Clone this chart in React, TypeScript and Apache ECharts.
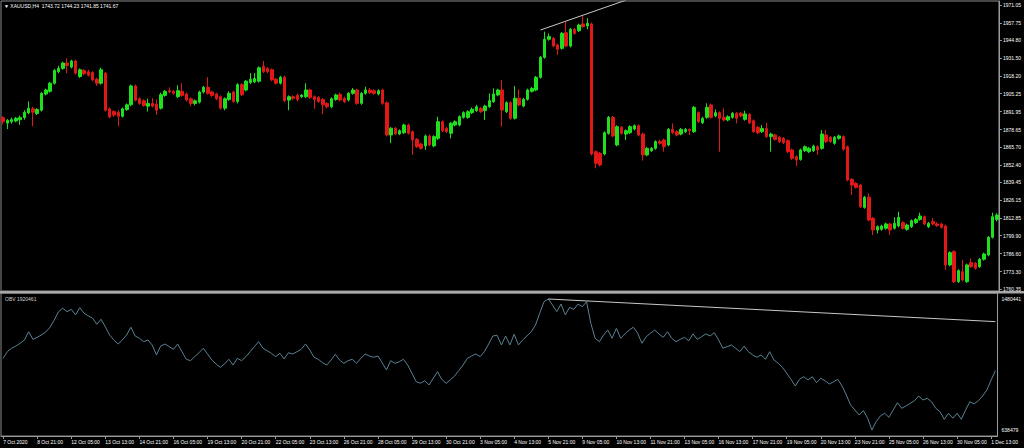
import React, { useEffect, useRef } from 'react';
import * as echarts from 'echarts';

const headerText = '\u25BC XAUUSD,H4  1743.72 1744.23 1741.85 1741.67';
const obvTitle = 'OBV 1920461';

const tickLabels = [
  '7 Oct 2020', '8 Oct 21:00', '12 Oct 05:00', '13 Oct 13:00', '14 Oct 21:00', '16 Oct 05:00',
  '19 Oct 13:00', '20 Oct 21:00', '22 Oct 05:00', '23 Oct 13:00', '26 Oct 21:00', '28 Oct 05:00',
  '29 Oct 13:00', '30 Oct 21:00', '3 Nov 05:00', '4 Nov 13:00', '5 Nov 21:00', '9 Nov 05:00',
  '10 Nov 13:00', '11 Nov 21:00', '13 Nov 05:00', '16 Nov 13:00', '17 Nov 21:00', '19 Nov 05:00',
  '20 Nov 13:00', '23 Nov 21:00', '25 Nov 05:00', '26 Nov 13:00', '30 Nov 05:00', '1 Dec 13:00',
];

const priceTicks = [
  1971.05, 1957.75, 1944.8, 1931.5, 1918.2, 1905.25, 1891.95, 1878.65, 1865.7,
  1852.4, 1839.45, 1826.15, 1812.85, 1799.9, 1786.6, 1773.3, 1760.35,
];
const obvTicks = [1480441, 638479];

const opens = [
  1887.5,1883.5,1884.5,1885.0,1886.0,1887.5,1891.0,1894.0,1890.5,1893.0,
  1905.0,1907.0,1913.0,1921.5,1924.0,1928.0,1925.0,1929.5,1918.0,1922.5,
  1921.5,1921.0,1916.0,1913.0,1920.5,1894.0,1892.0,1891.5,1888.5,1893.5,
  1897.0,1911.0,1901.5,1900.0,1896.0,1898.0,1897.5,1894.5,1904.0,1907.5,
  1907.0,1903.0,1907.0,1905.0,1901.5,1898.0,1899.0,1906.5,1910.0,1906.5,
  1905.0,1903.0,1894.5,1901.0,1906.5,1899.5,1912.0,1908.0,1913.5,1914.0,
  1914.5,1925.5,1924.0,1923.0,1916.0,1913.0,1917.5,1900.5,1903.0,1904.0,
  1903.0,1903.0,1908.0,1903.0,1902.5,1901.0,1898.0,1895.5,1901.0,1904.8,
  1901.8,1900.6,1905.5,1908.0,1898.1,1905.5,1908.0,1907.5,1905.0,1908.0,
  1898.5,1874.6,1879.6,1875.4,1876.3,1882.0,1877.1,1871.4,1867.9,1866.5,
  1873.9,1866.5,1872.1,1884.5,1879.6,1875.9,1882.0,1882.0,1887.7,1887.7,
  1891.2,1892.7,1894.4,1892.7,1895.6,1899.3,1904.3,1908.0,1891.9,1898.6,
  1887.0,1901.8,1896.1,1901.1,1907.0,1908.0,1917.4,1932.2,1945.6,1946.3,
  1941.4,1938.9,1950.5,1940.6,1953.0,1952.0,1957.0,1955.5,1957.0,1862.2,
  1861.0,1860.5,1875.8,1887.7,1867.2,1880.3,1875.3,1876.3,1879.0,1881.5,
  1875.3,1859.8,1863.0,1864.7,1869.7,1870.9,1867.2,1878.8,1877.1,1875.3,
  1877.1,1878.8,1877.1,1891.2,1883.7,1887.7,1896.9,1888.7,1891.2,1887.7,
  1885.7,1887.7,1890.7,1890.7,1886.2,1889.9,1885.2,1880.3,1877.1,1879.5,
  1873.4,1874.6,1872.9,1872.1,1870.4,1863.5,1858.5,1856.5,1863.0,1862.2,
  1863.0,1865.9,1864.7,1874.6,1872.9,1868.4,1872.1,1873.4,1865.9,1841.7,
  1838.7,1837.5,1820.9,1828.4,1812.8,1804.1,1804.6,1805.4,1808.6,1805.4,
  1807.1,1809.6,1804.6,1806.6,1809.6,1812.0,1814.0,1806.6,1810.3,1808.6,
  1808.6,1807.1,1778.2,1788.1,1765.8,1773.2,1765.8,1779.9,1779.4,1776.9,
  1782.4,1785.6,1798.7,1812.0,
];

const closes = [
  1884.5,1885.5,1886.0,1887.0,1887.5,1891.5,1894.5,1891.5,1893.5,1905.5,
  1908.0,1913.0,1922.5,1924.0,1928.0,1926.0,1929.5,1920.5,1923.0,1920.0,
  1919.0,1915.5,1913.0,1923.0,1893.0,1888.0,1889.5,1888.5,1894.0,1897.0,
  1911.0,1900.5,1898.0,1896.5,1898.0,1896.0,1893.0,1904.5,1907.0,1906.5,
  1905.5,1907.5,1904.0,1900.5,1898.0,1900.0,1906.5,1910.0,1905.5,1904.0,
  1901.5,1894.5,1901.5,1905.5,1899.5,1912.0,1904.5,1914.5,1916.0,1916.5,
  1924.5,1921.5,1921.5,1915.5,1913.0,1917.5,1900.0,1903.0,1901.8,1901.0,
  1904.2,1908.0,1902.5,1901.0,1899.5,1897.0,1895.5,1901.5,1904.3,1900.6,
  1899.3,1905.5,1908.0,1898.1,1905.5,1908.0,1906.0,1905.5,1907.5,1898.1,
  1874.6,1879.6,1875.4,1877.8,1882.0,1875.9,1870.9,1866.0,1864.7,1873.9,
  1867.2,1873.4,1884.5,1877.8,1877.1,1883.3,1884.5,1888.2,1891.2,1891.9,
  1893.7,1895.6,1891.9,1896.1,1900.1,1905.0,1908.0,1893.1,1898.6,1887.0,
  1901.8,1896.9,1901.1,1908.0,1909.2,1917.4,1932.2,1945.6,1947.6,1940.6,
  1938.2,1950.0,1940.6,1953.0,1950.0,1956.2,1955.0,1957.5,1860.5,1853.6,
  1852.3,1876.3,1887.7,1873.9,1880.8,1875.8,1877.8,1880.8,1881.5,1874.6,
  1859.8,1864.7,1864.7,1869.7,1868.4,1865.9,1878.8,1876.3,1874.6,1878.8,
  1878.8,1877.8,1895.1,1884.5,1887.0,1895.1,1887.7,1891.2,1887.0,1885.7,
  1888.2,1890.7,1887.0,1888.7,1890.2,1883.7,1877.1,1876.3,1879.5,1873.4,
  1875.3,1871.4,1869.6,1868.9,1862.2,1857.3,1856.0,1863.5,1865.9,1864.7,
  1866.4,1863.5,1875.3,1869.7,1869.7,1872.9,1873.9,1864.0,1841.2,1837.5,
  1835.8,1821.4,1828.4,1811.5,1804.1,1806.6,1807.1,1808.6,1804.1,1809.1,
  1813.5,1805.4,1807.8,1811.0,1812.0,1814.5,1808.6,1809.1,1808.6,1807.4,
  1806.1,1778.2,1787.3,1765.8,1774.0,1767.0,1778.2,1776.9,1775.7,1782.4,
  1786.3,1798.7,1814.0,1815.2,
];

const highs = [
  1888.5,1886.5,1887.5,1888.0,1889.0,1893.0,1899.5,1895.5,1894.5,1906.5,
  1909.0,1914.0,1923.5,1926.0,1929.0,1931.5,1930.5,1930.5,1924.0,1923.5,
  1923.0,1922.0,1917.0,1924.5,1921.5,1895.0,1893.0,1893.0,1895.0,1898.0,
  1912.0,1912.0,1902.5,1901.0,1901.5,1902.0,1901.0,1906.0,1908.0,1910.0,
  1908.0,1911.5,1913.0,1906.0,1902.5,1901.0,1907.5,1911.0,1917.5,1907.5,
  1906.0,1904.0,1902.5,1907.0,1907.5,1913.0,1913.0,1915.5,1920.5,1920.5,
  1925.5,1929.5,1925.0,1924.0,1917.0,1918.5,1918.5,1904.0,1904.0,1905.5,
  1905.0,1913.0,1909.0,1904.0,1903.5,1902.0,1899.0,1902.5,1905.3,1906.0,
  1903.0,1906.5,1909.5,1909.0,1906.5,1910.5,1909.5,1908.5,1908.5,1909.0,
  1899.5,1880.5,1880.5,1878.8,1883.0,1883.0,1878.0,1872.4,1868.9,1875.0,
  1875.0,1874.4,1888.2,1885.5,1880.6,1884.3,1885.5,1889.2,1892.2,1893.0,
  1895.0,1897.0,1895.4,1897.1,1905.5,1909.2,1909.0,1915.4,1899.6,1899.6,
  1911.0,1908.5,1902.1,1909.0,1910.2,1918.4,1933.2,1951.3,1950.0,1947.3,
  1942.4,1951.0,1958.7,1954.0,1954.0,1957.2,1963.6,1961.2,1958.0,1863.2,
  1862.0,1877.3,1888.7,1888.7,1881.8,1881.3,1878.8,1881.8,1882.5,1882.5,
  1876.3,1865.7,1865.7,1870.7,1871.0,1871.9,1879.8,1883.2,1878.1,1879.8,
  1879.8,1879.5,1896.1,1892.2,1888.0,1898.1,1897.9,1893.6,1892.2,1894.4,
  1889.2,1891.7,1891.7,1891.7,1892.6,1890.9,1886.2,1881.3,1882.0,1883.7,
  1876.3,1875.6,1873.9,1873.1,1871.4,1864.5,1859.5,1864.5,1866.9,1865.7,
  1867.4,1866.9,1878.3,1878.3,1873.9,1873.9,1874.9,1874.4,1866.9,1842.7,
  1839.7,1838.5,1829.4,1831.3,1813.8,1807.6,1808.1,1809.6,1809.6,1813.5,
  1817.7,1810.6,1808.8,1812.0,1813.0,1817.0,1815.0,1810.1,1813.0,1810.0,
  1809.6,1808.1,1788.3,1789.1,1775.0,1781.9,1779.2,1783.1,1780.4,1783.4,
  1787.3,1799.7,1817.0,1816.5,
];

const lows = [
  1882.5,1879.0,1883.0,1884.0,1882.0,1886.0,1890.0,1881.0,1889.5,1892.0,
  1904.0,1906.0,1912.0,1920.5,1923.0,1920.5,1924.0,1919.5,1917.0,1919.0,
  1918.0,1914.5,1911.0,1912.0,1892.0,1887.0,1888.0,1881.0,1887.5,1892.5,
  1896.0,1899.5,1897.0,1895.5,1892.0,1895.0,1889.5,1893.5,1903.0,1905.5,
  1904.5,1902.0,1903.0,1899.5,1896.0,1896.5,1898.0,1905.5,1904.5,1903.0,
  1900.5,1893.5,1893.0,1900.0,1898.5,1898.0,1903.5,1907.0,1912.5,1913.0,
  1913.5,1920.5,1920.5,1914.5,1912.0,1912.0,1899.0,1893.0,1900.5,1899.5,
  1902.0,1902.0,1901.5,1894.0,1898.5,1890.0,1894.5,1894.5,1900.0,1899.5,
  1898.3,1899.5,1904.5,1897.0,1897.0,1904.5,1905.0,1904.5,1904.0,1897.0,
  1873.5,1868.5,1874.5,1874.5,1875.3,1874.9,1859.8,1865.0,1863.7,1863.5,
  1866.2,1865.5,1871.0,1876.8,1876.1,1872.1,1881.0,1881.0,1886.7,1886.7,
  1890.2,1891.7,1890.9,1885.7,1894.6,1898.3,1903.3,1880.8,1890.9,1886.0,
  1886.0,1895.9,1895.1,1900.1,1906.0,1907.0,1916.4,1931.2,1944.6,1939.6,
  1934.0,1937.9,1939.6,1939.6,1949.0,1951.0,1954.0,1953.0,1859.5,1849.9,
  1851.3,1859.5,1874.8,1872.9,1866.2,1874.8,1870.9,1875.3,1878.0,1873.6,
  1855.6,1858.8,1862.0,1863.7,1867.4,1862.2,1866.2,1875.3,1873.6,1874.3,
  1876.1,1874.6,1876.1,1883.5,1882.7,1886.7,1886.7,1887.7,1862.2,1884.7,
  1884.7,1886.7,1883.2,1887.7,1885.2,1882.7,1876.1,1875.3,1876.1,1872.4,
  1862.2,1870.4,1868.6,1867.9,1861.2,1856.0,1851.6,1855.5,1862.0,1861.2,
  1862.0,1859.8,1863.7,1868.7,1868.7,1867.4,1871.1,1863.0,1840.2,1830.1,
  1834.8,1820.4,1819.9,1810.5,1800.4,1801.6,1803.6,1804.4,1800.4,1804.4,
  1806.1,1804.4,1803.6,1805.6,1808.6,1811.0,1807.6,1805.6,1807.6,1806.4,
  1805.1,1774.5,1777.2,1764.8,1764.8,1766.0,1764.8,1775.9,1774.7,1775.9,
  1781.4,1784.6,1797.7,1810.5,
];

const obv = [
  1099000,1142000,1164000,1178000,1196000,1217000,1270000,1221000,1234000,1249000,
  1268000,1299000,1345000,1399000,1421000,1399000,1414000,1378000,1425000,1389000,
  1372000,1357000,1318000,1350000,1302000,1249000,1217000,1191000,1217000,1249000,
  1299000,1243000,1228000,1206000,1217000,1185000,1121000,1178000,1191000,1174000,
  1157000,1191000,1142000,1093000,1084000,1110000,1135000,1164000,1127000,1088000,
  1063000,1041000,1063000,1093000,1056000,1099000,1084000,1110000,1142000,1174000,
  1206000,1164000,1148000,1131000,1110000,1131000,1095000,1135000,1127000,1142000,
  1157000,1191000,1153000,1106000,1093000,1071000,1056000,1088000,1125000,1088000,
  1067000,1084000,1093000,1067000,1099000,1127000,1114000,1106000,1114000,1071000,
  1024000,1084000,1067000,1077000,1093000,1056000,1003000,949000,939000,955000,
  928000,971000,1013000,964000,939000,960000,986000,1020000,1056000,1099000,
  1114000,1127000,1110000,1142000,1191000,1243000,1247000,1185000,1243000,1185000,
  1254000,1185000,1217000,1243000,1270000,1313000,1389000,1463000,1480441,1442000,
  1399000,1448000,1378000,1427000,1414000,1448000,1431000,1463000,1324000,1228000,
  1206000,1249000,1281000,1228000,1292000,1228000,1256000,1281000,1299000,1260000,
  1196000,1238000,1260000,1281000,1256000,1234000,1270000,1228000,1206000,1221000,
  1234000,1212000,1256000,1221000,1238000,1256000,1243000,1264000,1217000,1164000,
  1174000,1185000,1164000,1142000,1178000,1142000,1121000,1106000,1121000,1093000,
  1142000,1088000,1067000,1041000,1003000,964000,921000,964000,981000,960000,
  981000,943000,971000,955000,934000,949000,964000,921000,863000,799000,
  767000,735000,763000,714000,638479,692000,729000,746000,720000,767000,
  814000,778000,793000,810000,827000,857000,831000,842000,820000,778000,
  756000,707000,746000,714000,746000,707000,767000,820000,806000,827000,
  857000,896000,960000,1020000,
];

const priceTrend = [[126, 1952.5], [146, 1974.6]];
const obvTrend = [[128, 1480441], [233, 1335000]];

const PRICE_MIN = 1758.86;
const PRICE_MAX = 1974.02;
const OBV_MIN = 599900;
const OBV_MAX = 1519000;

export default function App() {
  const ref = useRef<HTMLDivElement>(null);
  useEffect(() => {
    document.body.style.margin = '0';
    document.body.style.background = '#000';
    const chart = echarts.init(ref.current as HTMLDivElement, undefined, { renderer: 'svg' });
    const cats = opens.map((_, i) => String(i));
    const candles = opens.map((o, i) => [o, closes[i], lows[i], highs[i]]);
    const every8 = (i: number) => i % 8 === 0;
    const font = 'Liberation Sans';
    const fs = 5;
    const option: any = {
      animation: false,
      backgroundColor: '#000',
      textStyle: { fontFamily: font },
      grid: [
        { left: 1, top: 1, width: 1000, height: 290, show: true, borderColor: '#8a8a8a', borderWidth: 1, backgroundColor: 'transparent' },
        { left: 1, top: 293, width: 1000, height: 143, show: true, borderColor: '#8a8a8a', borderWidth: 1, backgroundColor: 'transparent' },
      ],
      xAxis: [
        {
          type: 'category', gridIndex: 0, data: cats, boundaryGap: true,
          axisLine: { show: false }, axisTick: { show: false }, axisLabel: { show: false }, splitLine: { show: false },
        },
        {
          type: 'category', gridIndex: 1, data: cats, boundaryGap: true,
          axisLine: { show: true, lineStyle: { color: '#9a9a9a', width: 1 } },
          axisTick: { show: true, interval: every8, alignWithLabel: true, length: 3, lineStyle: { color: '#9a9a9a' } },
          axisLabel: {
            show: true, interval: every8, align: 'left', margin: 3, color: '#ffffff', fontSize: fs, fontFamily: font,
            showMinLabel: true, showMaxLabel: true,
            formatter: (v: string) => tickLabels[Number(v) / 8] ?? '',
          },
          splitLine: { show: false },
        },
      ],
      yAxis: [
        {
          type: 'value', gridIndex: 0, position: 'right', min: PRICE_MIN, max: PRICE_MAX, scale: true,
          axisLine: { show: true, lineStyle: { color: '#9a9a9a' } },
          axisTick: { show: true, length: 3, customValues: priceTicks, lineStyle: { color: '#9a9a9a' } },
          axisLabel: { show: true, customValues: priceTicks, margin: 4, color: '#ffffff', fontSize: fs, fontFamily: font, formatter: (v: number) => v.toFixed(2) },
          splitLine: { show: false },
        },
        {
          type: 'value', gridIndex: 1, position: 'right', min: OBV_MIN, max: OBV_MAX, scale: true,
          axisLine: { show: true, lineStyle: { color: '#9a9a9a' } },
          axisTick: { show: false },
          axisLabel: { show: true, customValues: obvTicks, margin: 4, color: '#ffffff', fontSize: fs, fontFamily: font, formatter: (v: number) => String(Math.round(v)) },
          splitLine: { show: false },
        },
      ],
      graphic: [
        { type: 'rect', left: 0, top: 291, shape: { width: 1024, height: 2.5 }, style: { fill: '#a8a8a8' }, silent: true },
        { type: 'text', left: 4, top: 3, style: { text: headerText, fill: '#ffffff', fontSize: fs, fontFamily: font } },
        { type: 'text', left: 5, top: 296, style: { text: obvTitle, fill: '#d0d0d0', fontSize: fs, fontFamily: font } },
      ],
      series: [
        {
          type: 'candlestick', xAxisIndex: 0, yAxisIndex: 0, data: candles, barWidth: 3,
          itemStyle: { color: '#1fe01f', color0: '#e01818', borderColor: '#1fe01f', borderColor0: '#e01818', borderWidth: 1 },
        },
        {
          type: 'line', xAxisIndex: 0, yAxisIndex: 0, data: priceTrend, symbol: 'none', clip: true,
          lineStyle: { color: '#c8c8c8', width: 1 },
        },
        {
          type: 'line', xAxisIndex: 1, yAxisIndex: 1, data: obv, symbol: 'none',
          lineStyle: { color: '#5a8194', width: 1 },
        },
        {
          type: 'line', xAxisIndex: 1, yAxisIndex: 1, data: obvTrend, symbol: 'none', clip: true,
          lineStyle: { color: '#c8c8c8', width: 1 },
        },
      ],
    };
    chart.setOption(option);
    return () => chart.dispose();
  }, []);
  return <div ref={ref} style={{ width: 1024, height: 448, background: '#000' }} />;
}
